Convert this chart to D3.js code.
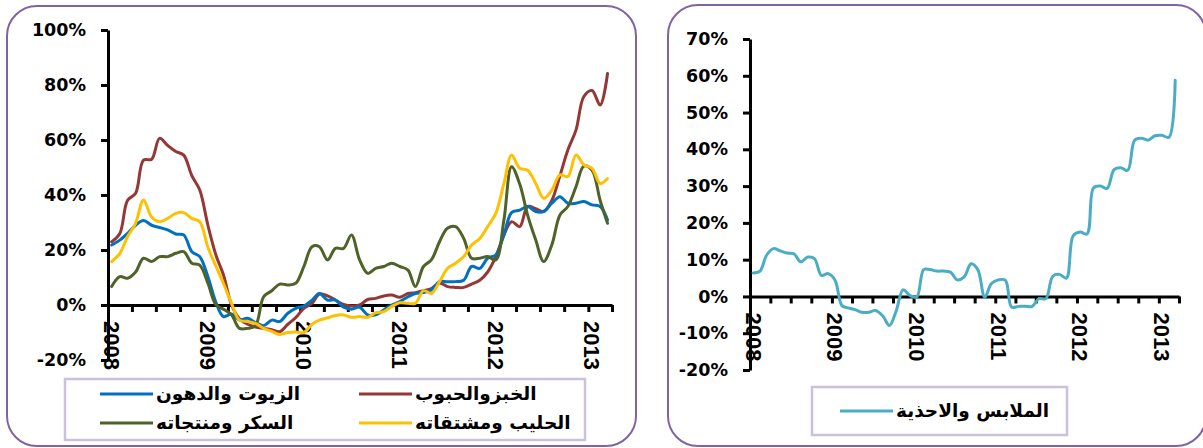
<!DOCTYPE html>
<html>
<head>
<meta charset="utf-8">
<script src="https://cdn.jsdelivr.net/npm/d3@7"></script>
<style>
  body { margin: 0; background: #fff; }
  svg { display: block; }
</style>
</head>
<body>
<script>
// monthly observations, Jan 2008 .. Mar 2013 (year-on-year change, %)
const start = new Date(2008, 0, 1);
const end = new Date(2013, 3, 1);
const months = d3.timeMonths(start, end);

const oils = [21.8, 23.6, 26, 29, 30.7, 29, 28.2, 27.3, 25.8, 25.5, 19.4, 17.6, 10.3, 0.8, -4.2, -3.3,
  -5.5, -4.8, -6.4, -7.5, -5.5, -6, -3, -1.2, -0.4, 1.8, 4.2, 1.8, 1.8, -0.8, -1.5,
  -0.8, -3.6, -3.6, -1.8, 0, 1.2, 3, 4.2, 4.5, 5.5, 8.5, 8.5, 8.5, 9, 14, 13.3,
  17, 18.2, 25.5, 33.6, 34.5, 35.8, 34, 34, 37, 39.4, 37, 37, 37.6, 36.4, 35.8, 31];
const bread = [23, 26, 38, 40.6, 52.7, 53, 60.6, 58, 55.8, 54.5, 47, 41.8, 29, 18, 11, 0,
  -5, -7, -8, -8.5, -9, -9.7, -7, -4.6, -1.2, 0.6, 4, 3.3, 1.8, 0.2, -0.4,
  0, 2, 2.4, 3.3, 3.6, 2.8, 4.2, 4.5, 5.2, 6, 8, 6.7, 6.4, 6.4, 7.6, 9,
  12, 17.6, 25.5, 30.3, 28.5, 35.8, 35, 34, 38, 47, 56.4, 63.6, 75.8, 78, 72.7, 84.2];
const sugar = [6.7, 10.3, 9.7, 12, 17, 15.8, 17.6, 17.6, 18.8, 19.4, 15.2, 14.5, 7.9, 0, -1.5, -3.6,
  -8.5, -8.5, -7.5, 3, 5.2, 7.6, 7.3, 7.9, 14, 21.2, 21.2, 16.4, 20.6, 20.6, 25.5,
  16.4, 11.5, 13.3, 14, 15.2, 14, 12.7, 6.7, 14, 16.4, 23, 27.9, 28.5, 24.2, 17, 17,
  17.6, 16.4, 31, 50.3, 44, 32.7, 23.6, 15.8, 21.8, 32.7, 35.8, 43, 50.5, 49, 38, 29.7];
const milk = [15.8, 18.8, 24.8, 29.7, 38.2, 32, 30.3, 31.5, 33.3, 33.6, 31.5, 30.3, 21, 14, 7.9, 0.6,
  -5.5, -6, -6.7, -8.5, -9.6, -10.7, -10, -9.8, -10, -7, -5.5, -4.7, -3.8, -3.6, -4.5,
  -4.2, -4.5, -2.8, -2.4, -0.6, 0.8, 0.6, 0.6, 5.2, 4.2, 8.5, 13.3, 15.2, 17.6, 21.8, 24.2,
  28.5, 33.3, 44.2, 54.5, 49.7, 49, 44.2, 38.8, 41.8, 47.3, 46.7, 54.5, 51, 49.7, 44.2, 46];
const clothing = [6.4, 6.9, 11.2, 13, 12.4, 11.8, 11.6, 9.4, 10.7, 10.3, 5.7, 6.2, 4.4, -2.5, -3.1, -3.6,
  -4.3, -4.3, -3.8, -5.2, -7.9, -4, 1.8, 0.3, -0.2, 7.3, 7.3, 6.9, 6.9, 6.6, 4.5,
  5.3, 8.9, 7.3, -0.2, 3.5, 4.5, 4.4, -2.9, -2.7, -2.7, -2.7, -0.6, -0.6, 5.5, 6, 5,
  16.5, 17.5, 17, 29.5, 30, 29.4, 34.5, 35, 34.3, 42.5, 43, 42.5, 43.7, 43.8, 43.3, 58.8];

const leftTicks = [-20, 0, 20, 40, 60, 80, 100];
const rightTicks = [-20, -10, 0, 10, 20, 30, 40, 50, 60, 70];

const leftSeries = [
  { name: "الخبزوالحبوب", values: bread, color: "#953735" },
  { name: "الزيوت والدهون", values: oils, color: "#0070C0" },
  { name: "السكر ومنتجاته", values: sugar, color: "#4F6228" },
  { name: "الحليب ومشتقاته", values: milk, color: "#FFC000" },
];
const rightSeries = [
  { name: "الملابس والاحذية", values: clothing, color: "#4BACC6" },
];

const svg = d3.select("body").append("svg")
  .attr("width", 1203)
  .attr("height", 448);

const drawPanel = ({ frame, xRange, yDomain, yRange, yTicks, series, legend }) => {
  const g = svg.append("g");

  // rounded chart frame
  g.append("rect")
    .attr("x", frame[0]).attr("y", frame[1])
    .attr("width", frame[2]).attr("height", frame[3])
    .attr("rx", 30).attr("ry", 30)
    .attr("fill", "#fff")
    .attr("stroke", "#8064A2")
    .attr("stroke-width", 2);

  const x = d3.scaleTime().domain([start, end]).range(xRange);
  const y = d3.scaleLinear().domain(yDomain).range(yRange);

  // y axis
  const yAxis = g.append("g")
    .attr("transform", `translate(${xRange[0]},0)`)
    .call(d3.axisLeft(y).tickValues(yTicks).tickSize(7).tickSizeOuter(0).tickPadding(15)
      .tickFormat((d) => d + "%"));
  yAxis.select(".domain").attr("stroke-width", 3);
  yAxis.selectAll(".tick line").attr("stroke-width", 3);
  yAxis.selectAll(".tick text")
    .attr("font-family", "DejaVu Sans")
    .attr("font-weight", "bold")
    .attr("font-size", 17.5)
    .attr("fill", "#000");

  // x axis on the zero line, quarterly ticks, year labels
  const xAxis = g.append("g")
    .attr("transform", `translate(0,${y(0)})`)
    .call(d3.axisBottom(x).ticks(d3.timeMonth.every(3)).tickSize(7).tickSizeOuter(0)
      .tickFormat((d) => (d.getMonth() === 0 ? d.getFullYear() : "")));
  xAxis.select(".domain").attr("stroke-width", 3);
  xAxis.selectAll(".tick line").attr("stroke-width", 3);
  xAxis.selectAll(".tick text")
    .attr("transform", "rotate(90)")
    .attr("x", 16)
    .attr("y", 0)
    .attr("dy", 5)
    .attr("text-anchor", "start")
    .attr("font-family", "Liberation Sans")
    .attr("font-weight", "bold")
    .attr("font-size", 22)
    .attr("fill", "#000");

  // smoothed lines, points at mid-month
  const line = d3.line()
    .x((d, i) => x(d3.timeDay.offset(months[i], 14)))
    .y((d) => y(d))
    .curve(d3.curveCatmullRom);

  g.append("g")
    .attr("fill", "none")
    .attr("stroke-width", 3)
    .attr("stroke-linejoin", "round")
    .attr("stroke-linecap", "round")
    .selectAll("path")
    .data(series)
    .join("path")
    .attr("stroke", (d) => d.color)
    .attr("d", (d) => line(d.values));

  // legend
  const lg = g.append("g");
  lg.append("rect")
    .attr("x", legend.box[0]).attr("y", legend.box[1])
    .attr("width", legend.box[2]).attr("height", legend.box[3])
    .attr("fill", "#fff")
    .attr("stroke", "#CCC1DA")
    .attr("stroke-width", 2.5);

  const item = lg.selectAll("g.item")
    .data(legend.order.map((k) => series[k]))
    .join("g")
    .attr("class", "item")
    .attr("transform", (d, i) => `translate(${legend.cols[i % legend.cols.length]},${legend.rows[Math.floor(i / legend.cols.length)]})`);

  item.append("line")
    .attr("x1", 0).attr("x2", 53)
    .attr("stroke", (d) => d.color)
    .attr("stroke-width", 3);

  item.append("text")
    .attr("x", 56)
    .attr("dy", "0.35em")
    .attr("text-anchor", "start")
    .attr("font-family", "DejaVu Sans")
    .attr("font-weight", "bold")
    .attr("font-size", 18.5)
    .attr("fill", "#000")
    .text((d) => d.name);
};

drawPanel({
  frame: [7, 6, 629, 440],
  xRange: [108, 612],
  yDomain: [-20, 100],
  yRange: [360, 30],
  yTicks: leftTicks,
  series: leftSeries,
  legend: { box: [65, 379, 520, 61], cols: [100, 359], rows: [394, 423], order: [1, 0, 2, 3] },
});

drawPanel({
  frame: [668, 5, 538, 441],
  xRange: [750, 1179],
  yDomain: [-20, 70],
  yRange: [370, 39],
  yTicks: rightTicks,
  series: rightSeries,
  legend: { box: [812, 387, 255, 48], cols: [840], rows: [411], order: [0] },
});
</script>
</body>
</html>
